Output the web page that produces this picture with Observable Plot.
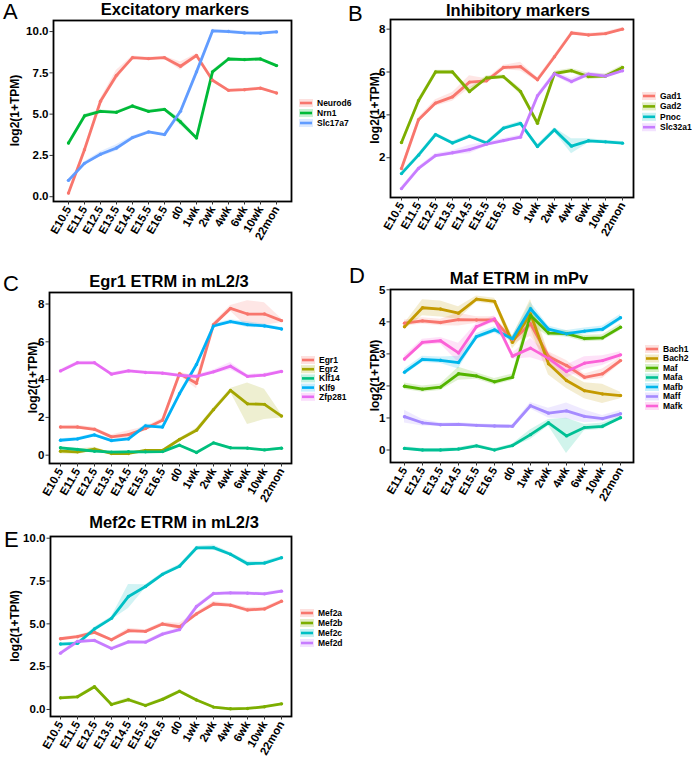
<!DOCTYPE html>
<html><head><meta charset="utf-8">
<script src="https://cdn.jsdelivr.net/npm/d3@7"></script>
<script src="https://cdn.jsdelivr.net/npm/@observablehq/plot@0.6"></script>
<style>
body{margin:0;background:#fff;font-family:"Liberation Sans",Arial,sans-serif;}
#root{position:relative;width:692px;height:760px;overflow:hidden;background:#fff}
#root svg.panel{position:absolute}
#root svg.panel text{font-family:"Liberation Sans",Arial,sans-serif;font-weight:bold;font-size:11.5px}
#overlay{position:absolute;left:0;top:0;pointer-events:none}
</style></head><body><div id="root"></div>
<script>
// ---------- data ----------
const stages14 = ["E10.5","E11.5","E12.5","E13.5","E14.5","E15.5","E16.5","d0","1wk","2wk","4wk","6wk","10wk","22mon"];
const stages13 = ["E11.5","E12.5","E13.5","E14.5","E15.5","E16.5","d0","1wk","2wk","4wk","6wk","10wk","22mon"];

// A: Excitatory markers
const genesA = ["Neurod6","Nrn1","Slc17a7"];
const neurod6 = [0.22,2.85,5.78,7.35,8.42,8.36,8.42,7.9,8.55,7.05,6.44,6.48,6.57,6.28];
const nrn1    = [3.25,4.89,5.17,5.11,5.49,5.17,5.29,4.53,3.56,7.56,8.34,8.30,8.34,7.94];
const slc17a7 = [0.99,2.02,2.57,2.95,3.58,3.92,3.76,5.17,7.56,10.04,10.0,9.92,9.9,9.98];
const neurod6Err = [0.1,0.15,0.15,0.3,0.1,0.08,0.08,0.25,0.1,0.1,0.08,0.08,0.08,0.08];
const nrn1Err    = [0.08,0.1,0.08,0.08,0.08,0.08,0.08,0.2,0.1,0.1,0.08,0.08,0.08,0.08];
const slc17a7Err = [0.08,0.1,0.15,0.2,0.1,0.08,0.08,0.1,0.1,0.1,0.1,0.1,0.08,0.08];

// B: Inhibitory markers
const genesB = ["Gad1","Gad2","Pnoc","Slc32a1"];
const gad1    = [1.5,3.77,4.55,4.84,5.53,5.59,6.21,6.25,5.64,6.71,7.82,7.73,7.79,8.0];
const gad2    = [2.71,4.66,6.0,6.0,5.09,5.72,5.78,5.09,3.61,5.93,6.06,5.79,5.81,6.21];
const pnoc    = [1.26,2.12,3.08,2.69,3.0,2.69,3.38,3.6,2.52,3.3,2.54,2.79,2.74,2.68];
const slc32a1 = [0.56,1.5,2.1,2.23,2.38,2.63,2.8,2.96,4.89,5.92,5.56,5.9,5.81,6.06];
const gad1Err    = [0.08,0.1,0.15,0.2,0.3,0.1,0.1,0.2,0.1,0.1,0.08,0.08,0.08,0.08];
const gad2Err    = [0.08,0.1,0.08,0.08,0.15,0.1,0.08,0.15,0.1,0.1,0.1,0.15,0.1,0.1];
const pnocErr    = [0.08,0.08,0.08,0.08,0.08,0.08,0.08,0.1,0.1,0.1,0.35,0.1,0.08,0.08];
const slc32a1Err = [0.08,0.08,0.1,0.1,0.2,0.1,0.1,0.1,0.1,0.1,0.15,0.1,0.08,0.08];

// C: Egr1 ETRM in mL2/3
const genesC = ["Egr1","Egr2","Klf14","Klf9","Zfp281"];
const egr1   = [1.49,1.49,1.37,0.97,1.09,1.41,1.85,4.31,3.81,6.91,7.77,7.47,7.47,7.12];
const egr2   = [0.21,0.18,0.32,0.09,0.09,0.25,0.25,0.83,1.32,2.41,3.43,2.72,2.69,2.07];
const klf14  = [0.39,0.3,0.21,0.16,0.18,0.18,0.19,0.53,0.14,0.65,0.39,0.37,0.28,0.37];
const klf9   = [0.79,0.86,1.07,0.77,0.86,1.55,1.49,3.25,4.8,6.84,7.07,6.91,6.84,6.68];
const zfp281 = [4.46,4.89,4.89,4.29,4.46,4.38,4.34,4.22,4.17,4.41,4.71,4.17,4.24,4.43];
const egr1Err   = [0.08,0.1,0.1,0.1,0.2,0.1,0.1,0.1,0.3,0.1,0.15,0.7,0.6,0.1];
const egr2Err   = [0.15,0.15,0.1,0.05,0.05,0.05,0.05,0.05,0.1,0.1,0.1,1.1,0.8,0.1];
const klf14Err  = [0.05,0.05,0.05,0.05,0.05,0.05,0.05,0.05,0.05,0.05,0.05,0.05,0.05,0.05];
const klf9Err   = [0.08,0.08,0.08,0.08,0.08,0.1,0.1,0.1,0.1,0.1,0.1,0.15,0.1,0.08];
const zfp281Err = [0.08,0.08,0.08,0.08,0.08,0.08,0.08,0.08,0.1,0.1,0.2,0.1,0.1,0.08];

// D: Maf ETRM in mPv
const genesD = ["Bach1","Bach2","Maf","Mafa","Mafb","Maff","Mafk"];
const bach1 = [3.96,4.03,3.98,4.07,4.06,4.06,3.42,3.94,2.92,2.64,2.27,2.38,2.79];
const bach2 = [3.85,4.44,4.4,4.27,4.71,4.64,3.36,4.25,2.69,2.17,1.85,1.75,1.70];
const maf   = [1.99,1.9,1.96,2.38,2.31,2.13,2.27,4.2,3.65,3.63,3.48,3.5,3.83];
const mafa  = [0.05,0.0,0.0,0.03,0.13,0.0,0.14,0.48,0.85,0.44,0.70,0.74,1.01];
const mafb  = [2.43,2.83,2.8,2.73,3.54,3.75,3.47,4.41,3.77,3.63,3.71,3.77,4.13];
const maff  = [1.04,0.85,0.79,0.8,0.77,0.75,0.74,1.38,1.15,1.22,1.05,0.98,1.13];
const mafk  = [2.84,3.36,3.41,3.03,3.85,4.09,2.93,3.18,2.86,2.45,2.71,2.79,2.97];
const bach1Err = [0.1,0.1,0.1,0.2,0.1,0.1,0.1,0.4,0.15,0.15,0.1,0.15,0.1];
const bach2Err = [0.1,0.25,0.25,0.2,0.1,0.1,0.2,0.45,0.35,0.25,0.25,0.3,0.1];
const mafErr   = [0.1,0.1,0.1,0.2,0.1,0.1,0.1,0.3,0.1,0.1,0.1,0.1,0.1];
const mafaErr  = [0.05,0.05,0.05,0.05,0.05,0.05,0.05,0.15,0.1,0.55,0.1,0.1,0.05];
const mafbErr  = [0.1,0.1,0.1,0.2,0.1,0.1,0.1,0.2,0.1,0.1,0.1,0.1,0.1];
const maffErr  = [0.2,0.1,0.05,0.05,0.05,0.05,0.05,0.1,0.15,0.25,0.2,0.1,0.1];
const mafkErr  = [0.1,0.1,0.1,0.3,0.1,0.1,0.1,0.3,0.15,0.2,0.2,0.15,0.1];

// E: Mef2c ETRM in mL2/3
const genesE = ["Mef2a","Mef2b","Mef2c","Mef2d"];
const mef2a = [4.13,4.25,4.5,4.07,4.6,4.56,4.99,4.83,5.58,6.16,6.09,5.81,5.87,6.32];
const mef2b = [0.68,0.74,1.33,0.29,0.57,0.23,0.59,1.06,0.55,0.14,0.04,0.06,0.16,0.33];
const mef2c = [3.82,3.86,4.7,5.32,6.6,7.18,7.89,8.36,9.43,9.45,9.06,8.51,8.55,8.86];
const mef2d = [3.29,3.97,4.03,3.56,3.95,3.93,4.4,4.66,6.01,6.77,6.81,6.79,6.75,6.91];
const mef2aErr = [0.08,0.08,0.1,0.08,0.15,0.1,0.1,0.2,0.1,0.15,0.1,0.15,0.1,0.08];
const mef2bErr = [0.08,0.08,0.08,0.08,0.12,0.08,0.08,0.08,0.08,0.05,0.05,0.05,0.05,0.05];
const mef2cErr = [0.08,0.08,0.1,0.1,0.7,0.1,0.1,0.1,0.1,0.15,0.1,0.15,0.1,0.08];
const mef2dErr = [0.08,0.08,0.08,0.08,0.08,0.08,0.1,0.1,0.1,0.08,0.08,0.08,0.08,0.08];

const titles = ["Excitatory markers","Inhibitory markers","Egr1 ETRM in mL2/3","Maf ETRM in mPv","Mef2c ETRM in mL2/3"];
const letters = ["A","B","C","D","E"];
const yLabel = "log2(1+TPM)";

// ---------- palettes (ggplot hue) ----------
const hue3 = ["#F8766D","#00BA38","#619CFF"];
const hue4 = ["#F8766D","#7CAE00","#00BFC4","#C77CFF"];
const hue5 = ["#F8766D","#A3A500","#00BF7D","#00B0F6","#E76BF3"];
const hue7 = ["#F8766D","#C49A00","#53B400","#00C094","#00B6EB","#A58AFF","#FB61D7"];

// ---------- layout ----------
const panels = [
  {stages:stages14, genes:genesA, vals:[neurod6,nrn1,slc17a7], errs:[neurod6Err,nrn1Err,slc17a7Err], colors:hue3,
   yDomain:[-0.29,10.67], yTicks:[0,2.5,5,7.5,10], fmt:d3.format(".1f"),
   frame:{x0:53,x1:291,y0:20,y1:201}, title:{x:175,y:15}, letter:{x:3,y:19}, ylab:{x:15},
   legend:{x:299,y:103,dy:10}},
  {stages:stages14, genes:genesB, vals:[gad1,gad2,pnoc,slc32a1], errs:[gad1Err,gad2Err,pnocErr,slc32a1Err], colors:hue4,
   yDomain:[0.144,8.45], yTicks:[2,4,6,8], fmt:d3.format("d"),
   frame:{x0:390,x1:633,y0:19,y1:197}, title:{x:518,y:16}, letter:{x:348,y:21}, ylab:{x:375},
   legend:{x:642,y:96,dy:10.4}},
  {stages:stages14, genes:genesC, vals:[egr1,egr2,klf14,klf9,zfp281], errs:[egr1Err,egr2Err,klf14Err,klf9Err,zfp281Err], colors:hue5,
   yDomain:[-0.44,8.61], yTicks:[0,2,4,6,8], fmt:d3.format("d"),
   frame:{x0:49,x1:291,y0:292,y1:463}, title:{x:169,y:287}, letter:{x:3,y:291}, ylab:{x:33},
   legend:{x:301,y:360,dy:9.2}},
  {stages:stages13, genes:genesD, vals:[bach1,bach2,maf,mafa,mafb,maff,mafk], errs:[bach1Err,bach2Err,mafErr,mafaErr,mafbErr,maffErr,mafkErr], colors:hue7,
   yDomain:[-0.39,5.01], yTicks:[0,1,2,3,4,5], fmt:d3.format("d"),
   frame:{x0:390,x1:633,y0:289,y1:462}, title:{x:519,y:284}, letter:{x:349,y:283}, ylab:{x:375},
   legend:{x:645,y:349,dy:9.5}},
  {stages:stages14, genes:genesE, vals:[mef2a,mef2b,mef2c,mef2d], errs:[mef2aErr,mef2bErr,mef2cErr,mef2dErr], colors:hue4,
   yDomain:[-0.41,10.1], yTicks:[0,2.5,5,7.5,10], fmt:d3.format(".1f"),
   frame:{x0:50,x1:291,y0:536,y1:716}, title:{x:174,y:528}, letter:{x:4,y:547}, ylab:{x:15},
   legend:{x:300,y:613,dy:10}}
];

const root = document.getElementById("root");
const mL = 48, mR = 4, mT = 4, mB = 56;

panels.forEach((p) => {
  const rows = [];
  p.genes.forEach((g, i) => p.stages.forEach((s, j) => {
    rows.push({gene:g, stage:s, v:p.vals[i][j], lo:p.vals[i][j]-p.errs[i][j], hi:p.vals[i][j]+p.errs[i][j]});
  }));
  const f = p.frame;
  const svg = Plot.plot({
    width: (f.x1 - f.x0) + mL + mR,
    height: (f.y1 - f.y0) + mT + mB,
    marginLeft: mL, marginRight: mR, marginTop: mT, marginBottom: mB,
    style: {background:"transparent", fontFamily:'"Liberation Sans",Arial,sans-serif', fontSize:"11.5px", fontWeight:"bold", color:"#000", overflow:"visible"},
    x: {type:"point", domain:p.stages, padding:0.58, label:null},
    y: {domain:p.yDomain, label:null},
    color: {domain:p.genes, range:p.colors},
    marks: [
      Plot.areaY(rows, {x:"stage", y1:"lo", y2:"hi", z:"gene", fill:"gene", fillOpacity:0.18}),
      Plot.lineY(rows, {x:"stage", y:"v", z:"gene", stroke:"gene", strokeWidth:2.8, strokeLinejoin:"round"}),
      Plot.dot(rows, {x:"stage", y:"v", fill:"gene", r:1.7}),
      Plot.frame({stroke:"#000", strokeWidth:1.8}),
      Plot.axisX({tickRotate:-60, tickSize:3.5, tickPadding:2, label:null, stroke:"#333", fill:"#000", fontSize:11.5, fontWeight:"bold"}),
      Plot.axisY({ticks:p.yTicks, tickFormat:p.fmt, tickSize:3.5, tickPadding:1.5, label:null, stroke:"#333", fill:"#000", fontSize:11.5, fontWeight:"bold"})
    ]
  });
  svg.classList.add("panel");
  svg.style.left = (f.x0 - mL) + "px";
  svg.style.top = (f.y0 - mT) + "px";
  root.appendChild(svg);
});

// overlay: titles, letters, axis titles, legends
const ov = d3.select(root).append("svg").attr("id","overlay").attr("width",692).attr("height",760)
  .style("font-family",'"Liberation Sans",Arial,sans-serif');
panels.forEach((p, k) => {
  const f = p.frame;
  ov.append("text").attr("x",p.title.x).attr("y",p.title.y).attr("text-anchor","middle")
    .attr("font-size",16.5).attr("font-weight","bold").text(titles[k]);
  ov.append("text").attr("x",p.letter.x).attr("y",p.letter.y)
    .attr("font-size",22).text(letters[k]);
  const cy = (f.y0 + f.y1) / 2;
  ov.append("text").attr("transform",`translate(${p.ylab.x},${cy}) rotate(-90)`)
    .attr("text-anchor","middle").attr("dy","0.35em").attr("font-size",12).attr("font-weight","bold").text(yLabel);
  const lg = ov.append("g");
  p.genes.forEach((g, i) => {
    const y = p.legend.y + i * p.legend.dy;
    lg.append("rect").attr("x",p.legend.x).attr("y",y-4).attr("width",14).attr("height",8)
      .attr("fill",p.colors[i]).attr("fill-opacity",0.22);
    lg.append("line").attr("x1",p.legend.x+1).attr("x2",p.legend.x+13).attr("y1",y).attr("y2",y)
      .attr("stroke",p.colors[i]).attr("stroke-width",2.6);
    lg.append("text").attr("x",p.legend.x+18).attr("y",y).attr("dy","0.35em")
      .attr("font-size",8.5).attr("font-weight","bold").text(g);
  });
});
</script></body></html>
